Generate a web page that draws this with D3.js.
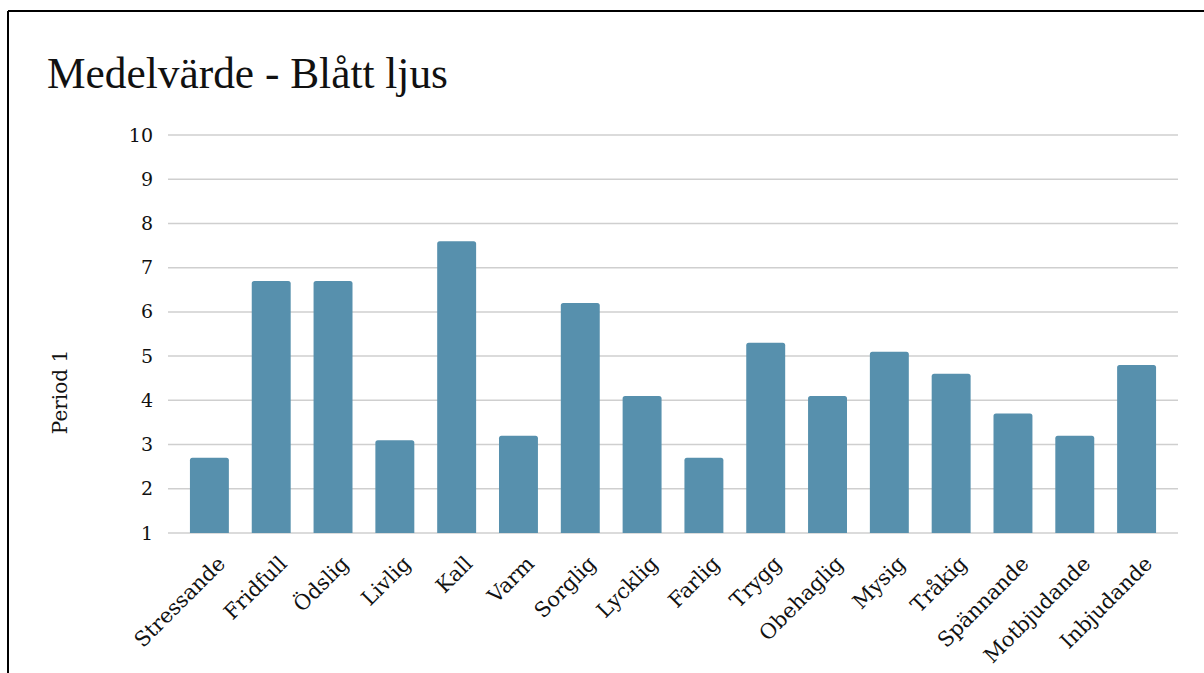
<!DOCTYPE html>
<html>
<head>
<meta charset="utf-8">
<script src="https://cdn.jsdelivr.net/npm/d3@7"></script>
<style>
  body { margin: 0; background: #fff; }
  text { font-family: "DejaVu Serif", "Liberation Serif", serif; fill: #111; }
</style>
</head>
<body>
<script>
// chart data
var categories = ["Stressande", "Fridfull", "Ödslig", "Livlig", "Kall", "Varm", "Sorglig", "Lycklig",
                  "Farlig", "Trygg", "Obehaglig", "Mysig", "Tråkig", "Spännande", "Motbjudande", "Inbjudande"];
var values = [2.7, 6.7, 6.7, 3.1, 7.6, 3.2, 6.2, 4.1, 2.7, 5.3, 4.1, 5.1, 4.6, 3.7, 3.2, 4.8];
var yTicks = [1, 2, 3, 4, 5, 6, 7, 8, 9, 10];
var title = "Medelvärde - Blått ljus";
var yLabel = "Period 1";

var w = 1204, h = 673;

var svg = d3.select("body")
    .append("svg")
    .attr("width", w)
    .attr("height", h);

// frame lines (top + left)
svg.append("line")
    .attr("x1", 8).attr("x2", w).attr("y1", 11).attr("y2", 11)
    .style("stroke", "#000").style("stroke-width", 2);
svg.append("line")
    .attr("x1", 8).attr("x2", 8).attr("y1", 11).attr("y2", h)
    .style("stroke", "#000").style("stroke-width", 2);

var x = d3.scaleBand()
    .domain(categories)
    .range([178.5, 1167.5])
    .paddingInner(0.37)
    .paddingOuter(0.185);

var y = d3.scaleLinear()
    .domain([1, 10])
    .range([533, 135]);

// gridlines
svg.selectAll(".grid")
    .data(yTicks)
    .enter()
    .append("line")
    .attr("class", "grid")
    .attr("x1", 168)
    .attr("x2", 1178)
    .attr("y1", function(d){ return y(d); })
    .attr("y2", function(d){ return y(d); })
    .style("stroke", "#cfcfcf")
    .style("stroke-width", 1.5);

// y axis labels
var yAxis = d3.axisLeft(y).tickValues(yTicks).tickSize(0).tickPadding(0);
var yg = svg.append("g")
    .attr("transform", "translate(153,0)")
    .call(yAxis);
yg.select(".domain").remove();
yg.selectAll("text")
    .style("font-family", "'DejaVu Serif', serif")
    .style("font-size", "19px")
    .style("fill", "#111");

// bars with slightly rounded tops
svg.selectAll(".bar")
    .data(values)
    .enter()
    .append("path")
    .attr("class", "bar")
    .attr("d", function(d, i){
        var x0 = x(categories[i]), bw = x.bandwidth();
        var top = y(d), bot = y(1), r = 2.5;
        return "M" + x0 + "," + bot +
            "V" + (top + r) +
            "Q" + x0 + "," + top + " " + (x0 + r) + "," + top +
            "H" + (x0 + bw - r) +
            "Q" + (x0 + bw) + "," + top + " " + (x0 + bw) + "," + (top + r) +
            "V" + bot + "Z";
    })
    .style("fill", "#5790ad");

// x labels, rotated
var xl = svg.selectAll(".xlabel")
    .data(categories)
    .enter()
    .append("text")
    .attr("class", "xlabel")
    .attr("text-anchor", "end")
    .attr("transform", function(d){
        var cx = x(d) + x.bandwidth() / 2 + 17;
        return "translate(" + cx + ",565) rotate(-45)";
    })
    .style("font-size", "18px")
    .text(function(d){ return d; });
// size so "Stressande" is about 118px long, like the reference
var sw = xl.filter(function(d){ return d === "Stressande"; }).node().getComputedTextLength();
xl.style("font-size", (18 * 118 / sw) + "px");

// y axis title
svg.append("text")
    .attr("text-anchor", "middle")
    .attr("transform", "translate(67,392) rotate(-90)")
    .style("font-size", "20px")
    .text(yLabel);

// chart title
var t = svg.append("text")
    .attr("x", 47)
    .attr("y", 88)
    .style("font-family", "'Liberation Serif', serif")
    .style("font-size", "38px")
    .text(title);
// fit title width to the reference (~401px)
var tw = t.node().getComputedTextLength();
t.style("font-size", (38 * 401 / tw) + "px");
</script>
</body>
</html>
